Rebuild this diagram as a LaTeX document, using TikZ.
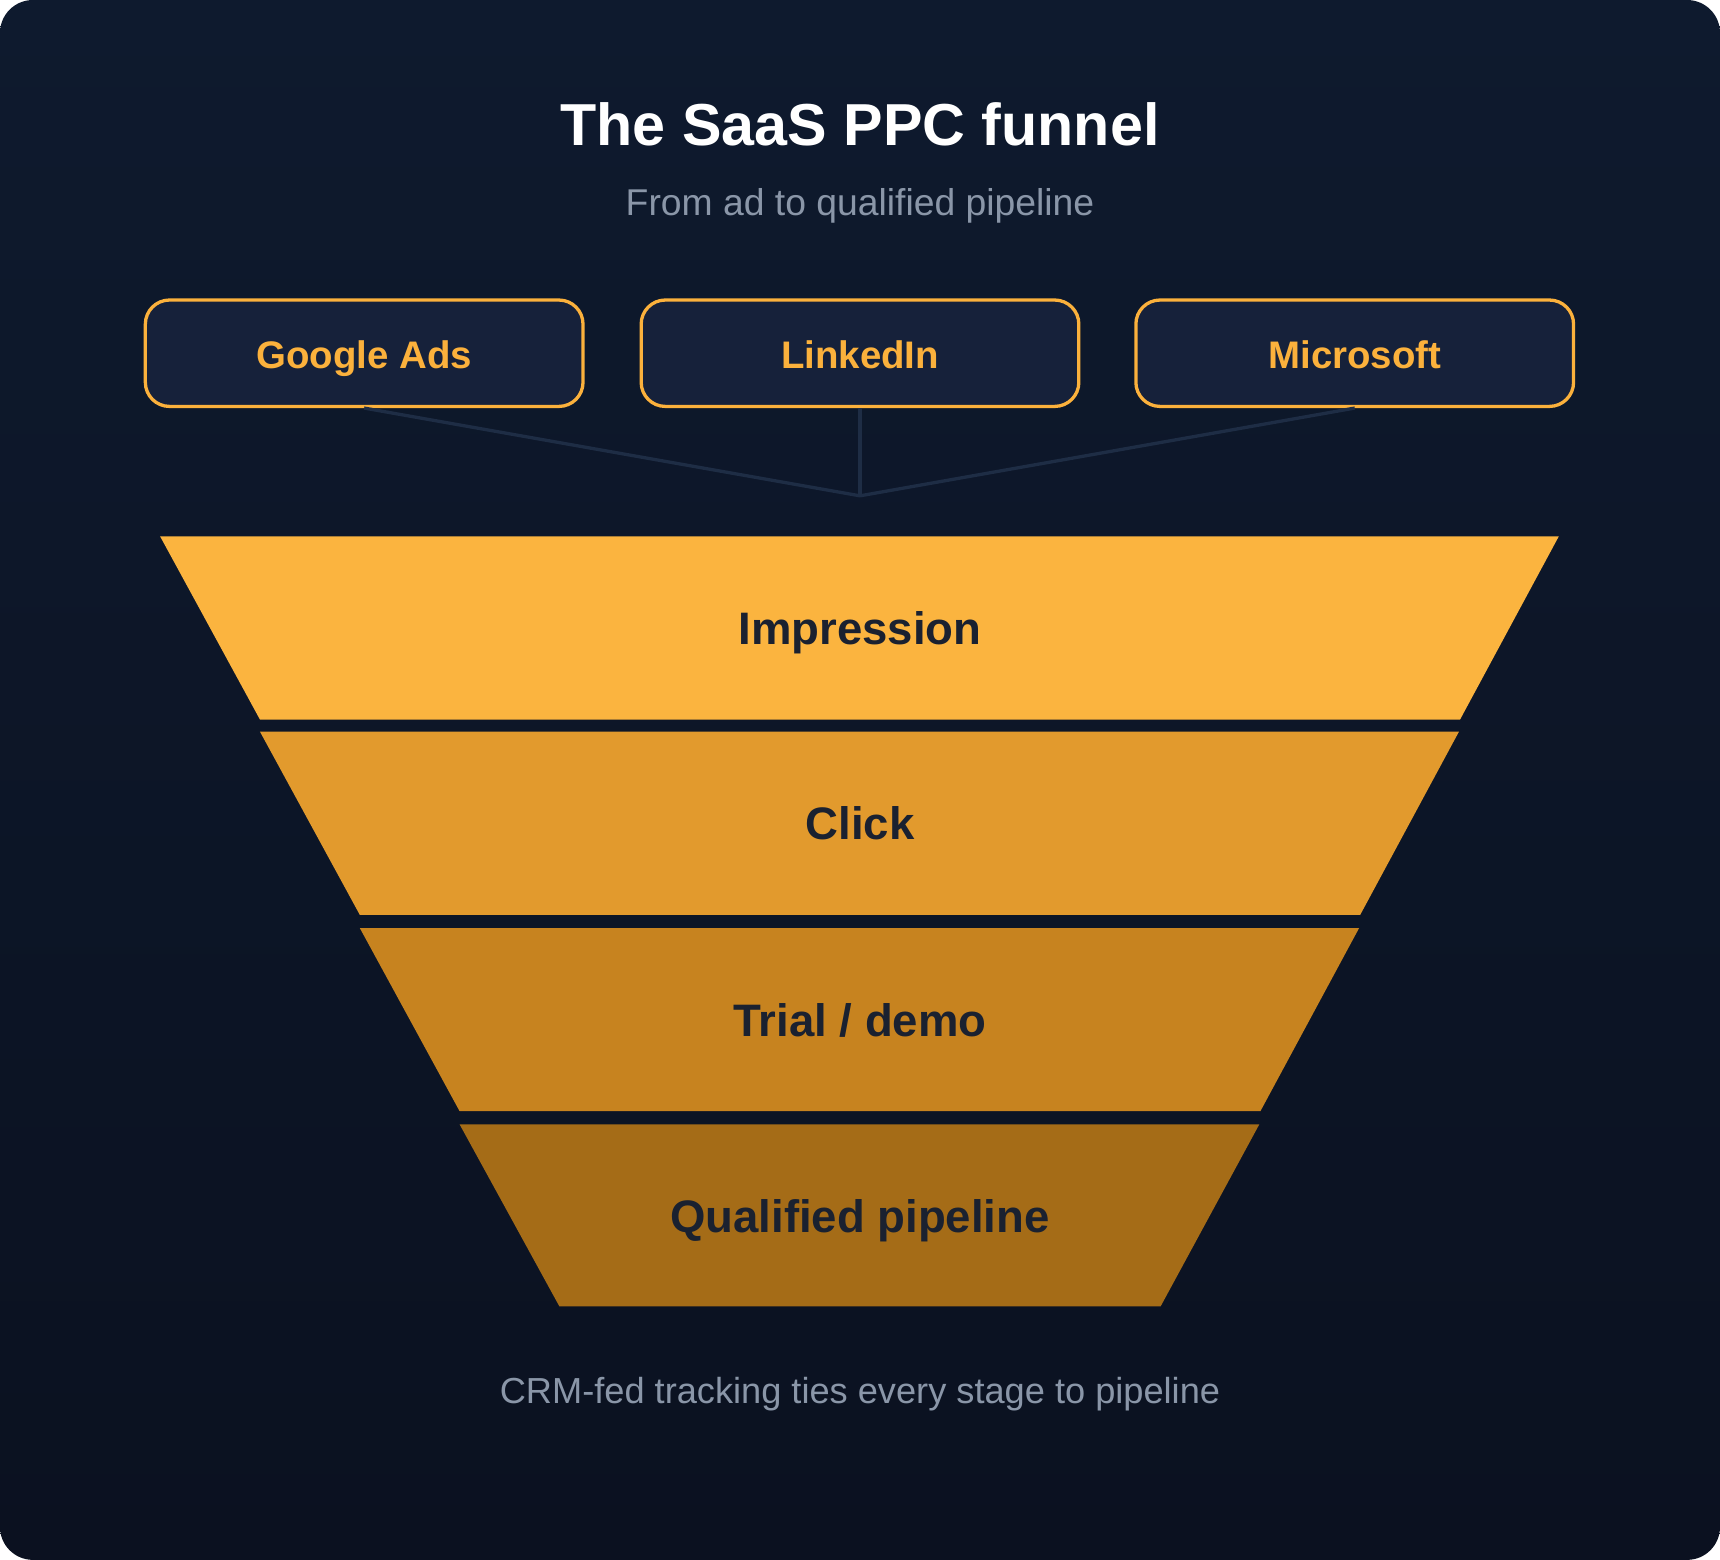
\documentclass[tikz,border=0pt]{standalone}
\usepackage{fontspec}
\setmainfont{Liberation Sans}
\begin{document}
\begin{tikzpicture}[x=1pt,y=-1pt,
  src/.style={draw=srcline,line width=3pt,fill=boxfill,rounded corners=22pt,minimum width=399pt,minimum height=97pt,text height=30pt,text depth=2pt,text=srcline,font=\fontsize{35}{40}\selectfont\bfseries},
  conn/.style={draw=connc,line width=3pt},
  stage/.style={text=stagetxt,font=\fontsize{41.5}{48}\selectfont\bfseries,text height=33pt,text depth=6pt}]
\definecolor{bgA}{HTML}{0E1A2E}\definecolor{bgB}{HTML}{0B1120}
\definecolor{boxfill}{HTML}{16213A}\definecolor{srcline}{HTML}{FBB13C}
\definecolor{connc}{HTML}{1E2D45}\definecolor{stagetxt}{HTML}{1A2130}
\definecolor{s1}{HTML}{FBB43F}\definecolor{s2}{HTML}{E29A2D}
\definecolor{s3}{HTML}{C7831F}\definecolor{s4}{HTML}{A56C17}
\definecolor{subc}{HTML}{8A96A8}
\useasboundingbox (0,0) rectangle (1568,1422);
\shade[top color=bgA,bottom color=bgB,rounded corners=30pt] (0,0) rectangle (1568,1422);
\node[text=white,font=\fontsize{54}{60}\selectfont\bfseries] (title) at (784,113) {The SaaS PPC funnel};
\node[text=subc,font=\fontsize{34}{40}\selectfont] (sub) at (784,188) {From ad to qualified pipeline};
\node[src] (g) at (332,322) {Google Ads};
\node[src] (l) at (784,322) {LinkedIn};
\node[src] (m) at (1235,322) {Microsoft};
\coordinate (j) at (784,452);
\draw[conn] (g.south) -- (j);
\draw[conn] (l.south) -- (j);
\draw[conn] (m.south) -- (j);
\fill[s1] (146,489) -- (1421,489) -- (1331,656) -- (237,656) -- cycle;
\fill[s2] (237,667) -- (1330,667) -- (1240,834) -- (328,834) -- cycle;
\fill[s3] (328,846) -- (1239,846) -- (1149,1013) -- (419,1013) -- cycle;
\fill[s4] (419,1025) -- (1148,1025) -- (1058,1191) -- (510,1191) -- cycle;
\node[stage] (a) at (784,574) {Impression};
\node[stage] (b) at (784,752) {Click};
\node[stage] (c) at (784,931) {Trial / demo};
\node[stage] (d) at (784,1110) {Qualified pipeline};
\node[text=subc,font=\fontsize{33}{38}\selectfont] (foot) at (784,1271) {CRM-fed tracking ties every stage to pipeline};
\end{tikzpicture}
\end{document}
